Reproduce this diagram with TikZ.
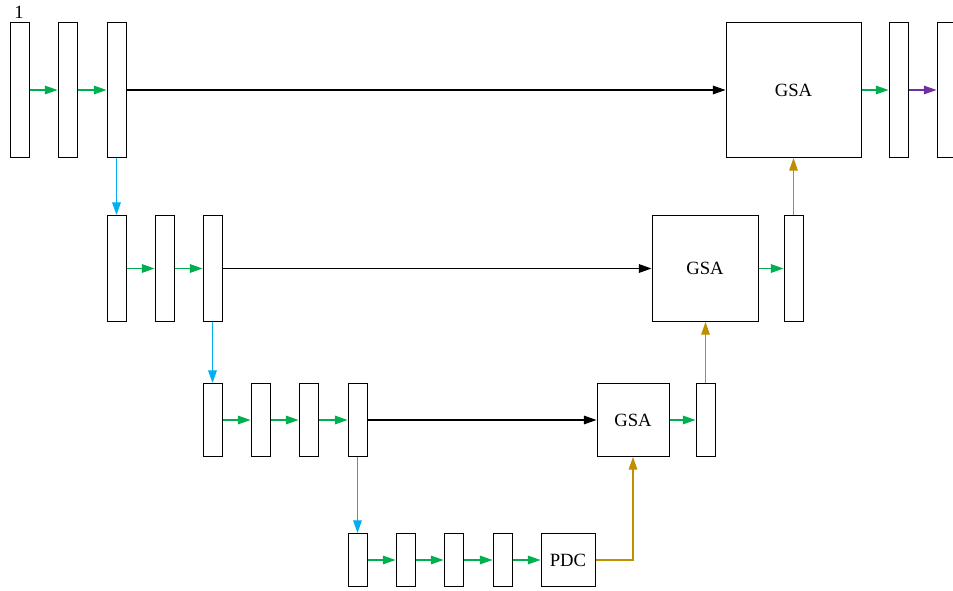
\documentclass[tikz,border=0pt]{standalone}
\usepackage{fontspec}
\setmainfont{Liberation Serif}
\usetikzlibrary{arrows.meta}
\definecolor{flowgreen}{HTML}{00B050}
\definecolor{downblue}{HTML}{00B0F0}
\definecolor{upgold}{HTML}{BF8F00}
\definecolor{outpurple}{HTML}{7030A0}
\tikzset{
  x=0.75pt, y=-0.75pt,
  blk/.style={draw, line width=0.75pt, fill=white, inner sep=0pt, minimum width=14.25pt, font=\fontsize{14pt}{16pt}\selectfont},
  h1/.style={minimum height=101.25pt},
  h2/.style={minimum height=79.5pt},
  h3/.style={minimum height=54.75pt},
  h4/.style={minimum height=39.75pt},
  tip/.style={-{Triangle[length=9.5pt,width=6.5pt]}, line width=0.85pt},
  fwd/.style={tip, color=flowgreen},
  skipline/.style={tip, color=black},
  down/.style={tip, color=downblue},
  up/.style={tip, color=upgold},
  outarrow/.style={tip, color=outpurple}
}
\begin{document}
\begin{tikzpicture}
\useasboundingbox (0,0) rectangle (953,591);
\clip (0,0) rectangle (953,591);
% level 1
\node[blk,h1] (a1) at (19.5,90) {};
\node[font=\fontsize{14pt}{16pt}\selectfont, inner sep=0pt] (lbl) at (19,12.5) {1};
\node[blk,h1] (a2) at (67.5,90) {};
\node[blk,h1] (a3) at (116.5,90) {};
\node[blk,minimum width=101.25pt,minimum height=101.25pt] (g1) at (793.5,90) {GSA};
\node[blk,h1] (a4) at (898.5,90) {};
\node[blk,h1] (a5) at (946.5,90) {};
% level 2
\node[blk,h2] (b1) at (116.5,268.5) {};
\node[blk,h2] (b2) at (164.5,268.5) {};
\node[blk,h2] (b3) at (212.5,268.5) {};
\node[blk,minimum width=79.5pt,minimum height=79.5pt] (g2) at (705,268.5) {GSA};
\node[blk,h2] (b4) at (793.5,268.5) {};
% level 3
\node[blk,h3] (c1) at (212.5,420) {};
\node[blk,h3] (c2) at (260.5,420) {};
\node[blk,h3] (c3) at (308.5,420) {};
\node[blk,h3] (c4) at (357.5,420) {};
\node[blk,minimum width=54pt,minimum height=54.75pt] (g3) at (633,420) {GSA};
\node[blk,h3] (c5) at (705.5,420) {};
% level 4
\node[blk,h4] (d1) at (357.5,560) {};
\node[blk,h4] (d2) at (405.5,560) {};
\node[blk,h4] (d3) at (453.5,560) {};
\node[blk,h4] (d4) at (502.5,560) {};
\node[blk,minimum width=40.5pt,minimum height=39.75pt] (pdc) at (568,560) {PDC};
% forward connections
\draw[fwd] (a1) -- (a2);
\draw[fwd] (a2) -- (a3);
\draw[skipline] (a3) -- (g1);
\draw[fwd] (g1) -- (a4);
\draw[outarrow] (a4) -- (a5);
\draw[fwd] (b1) -- (b2);
\draw[fwd] (b2) -- (b3);
\draw[skipline] (b3) -- (g2);
\draw[fwd] (g2) -- (b4);
\draw[fwd] (c1) -- (c2);
\draw[fwd] (c2) -- (c3);
\draw[fwd] (c3) -- (c4);
\draw[skipline] (c4) -- (g3);
\draw[fwd] (g3) -- (c5);
\draw[fwd] (d1) -- (d2);
\draw[fwd] (d2) -- (d3);
\draw[fwd] (d3) -- (d4);
\draw[fwd] (d4) -- (pdc);
% downsampling
\draw[down] (a3.south) -- (b1.north);
\draw[down] (b3.south) -- (c1.north);
\draw[down] (c4.south) -- (d1.north);
% upsampling
\draw[up] (pdc.east) -| (g3.south);
\draw[up] (c5.north) -- (c5.north |- g2.south);
\draw[up] (b4.north) -- (b4.north |- g1.south);
\end{tikzpicture}
\end{document}
